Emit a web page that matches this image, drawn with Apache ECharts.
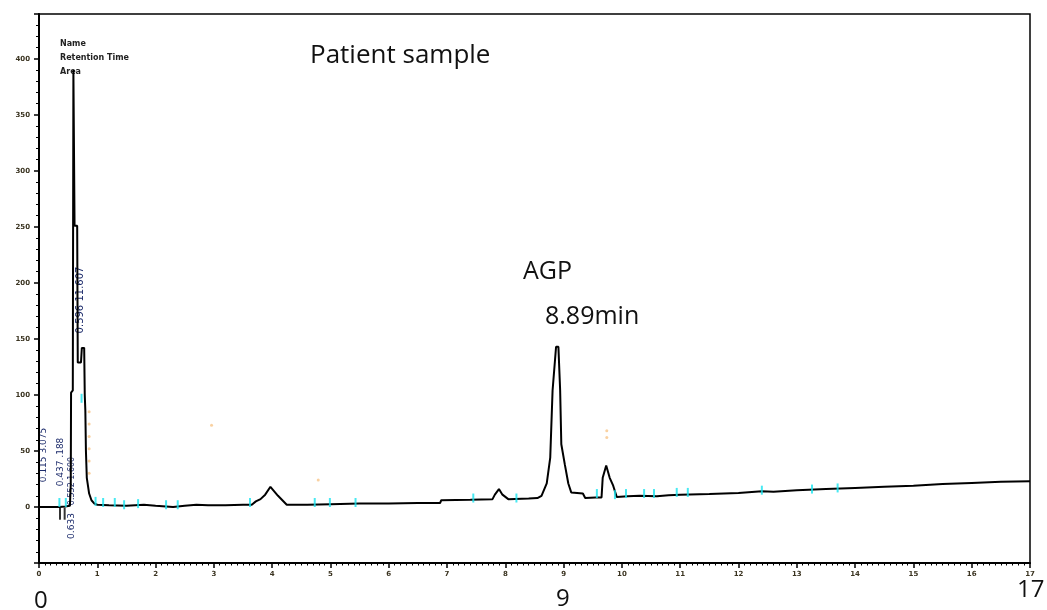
<!DOCTYPE html>
<html>
<head>
<meta charset="utf-8">
<script src="https://cdn.jsdelivr.net/npm/echarts@6/dist/echarts.min.js"></script>
<style>
html, body { margin: 0; padding: 0; background: #fff; }
#chart { width: 1047px; height: 610px; }
</style>
</head>
<body>
<div id="chart"></div>
<script>
// retention time (min) and detector signal
const retTimes = [0, 0.35, 0.45, 0.53, 0.545, 0.55, 0.58, 0.59, 0.605, 0.61, 0.655, 0.665, 0.72, 0.735, 0.775, 0.785, 0.795, 0.805, 0.82, 0.86, 0.9, 0.95,
  1.0, 1.2, 1.5, 1.8, 2.0, 2.3, 2.5, 2.7, 2.9, 3.2, 3.5, 3.65, 3.72, 3.8, 3.88, 3.97, 4.1, 4.25, 4.6,
  5.0, 5.5, 6.0, 6.5, 6.88, 6.9, 7.4, 7.78, 7.82, 7.89, 7.95, 8.05, 8.4, 8.55,
  8.62, 8.71, 8.77, 8.81, 8.87, 8.91, 8.94, 8.96, 9.02, 9.08, 9.13, 9.33, 9.37, 9.55, 9.65,
  9.67, 9.73, 9.76, 9.79, 9.85, 9.91, 10.1, 10.3, 10.6, 10.8, 11.0, 11.5, 12.0, 12.4, 12.6,
  13.0, 13.5, 14.0, 14.5, 15.0, 15.5, 16.0, 16.5, 17.0];
const signal = [0, 0, 0.5, 1, 20, 102, 104, 390, 390, 251, 251, 129, 129, 142, 142, 100, 86, 50, 26, 12, 6, 3,
  2, 1.5, 1, 2, 1, 0, 1, 2, 1.5, 1.5, 2, 2, 5, 7, 11, 18, 10, 2, 2,
  2.5, 3, 3, 3.5, 3.5, 6, 6.5, 7, 11, 16, 11, 7, 7.5, 8,
  10, 21, 44, 104, 143, 143, 104, 56, 38, 21, 13, 12, 8, 8.5, 8.5,
  26, 37, 37, 26, 19, 9, 9.5, 10, 9.5, 10.5, 11, 11.5, 12.5, 14, 13.5,
  15, 16, 17, 18, 19, 20.5, 21.5, 22.5, 23];

// integration event marks (cyan)
const cyanTimes = [0.35, 0.46, 0.73, 0.97, 1.1, 1.3, 1.46, 1.7, 2.18, 2.38, 3.62, 4.73, 4.99, 5.43, 7.45, 8.19, 9.57, 9.88, 10.07, 10.38, 10.55, 10.94, 11.13, 12.4, 13.26, 13.7];
const cyanLevels = [4, 4, 97, 5, 4, 4, 2, 3, 2, 2, 4, 4, 4, 4, 8, 8, 12, 11, 12, 12, 12, 13, 13, 15, 16, 17];

// faint orange marker dots
const dotTimes = [0.86, 0.86, 0.86, 0.86, 0.86, 0.86, 2.96, 4.79, 9.74, 9.74];
const dotLevels = [85, 74, 63, 52, 41, 30, 73, 24, 68, 62];

// black drop marks below baseline
const dropTimes = [0.36, 0.44];
const dropLevels = [-6, -6];

const chart = echarts.init(document.getElementById('chart'));

const trace = retTimes.map((t, i) => [t, signal[i]]);
const cyanMarks = cyanTimes.map((t, i) => [t, cyanLevels[i]]);
const dots = dotTimes.map((t, i) => [t, dotLevels[i]]);
const drops = dropTimes.map((t, i) => [t, dropLevels[i]]);

const bigFont = { fontFamily: 'Open Sans', fontSize: 25, fill: '#111' };
const tagFont = { fontFamily: 'DejaVu Sans', fill: '#1c2b6b' };

const option = {
  animation: false,
  backgroundColor: '#fff',
  grid: {
    left: 39, right: 17, top: 14, bottom: 47,
    show: true, borderColor: '#000', borderWidth: 1.5
  },
  xAxis: {
    type: 'value', min: 0, max: 17, interval: 1,
    axisLine: { onZero: false, lineStyle: { color: '#000', width: 2 } },
    axisTick: { length: 5, lineStyle: { color: '#000', width: 1.5 } },
    minorTick: { show: true, splitNumber: 10, length: 2.5, lineStyle: { color: '#000', width: 1 } },
    axisLabel: { color: '#3a3320', fontSize: 7, margin: 8, fontFamily: 'DejaVu Sans', fontWeight: 'bold' },
    splitLine: { show: false }
  },
  yAxis: {
    type: 'value', min: -50, max: 440, interval: 50,
    axisLine: { onZero: false, lineStyle: { color: '#000', width: 2 } },
    axisTick: { length: 5, lineStyle: { color: '#000', width: 1.5 } },
    minorTick: { show: true, splitNumber: 5, length: 3, lineStyle: { color: '#000', width: 1 } },
    axisLabel: { color: '#3a3320', fontSize: 7, margin: 9, fontFamily: 'DejaVu Sans', fontWeight: 'bold', showMinLabel: false, showMaxLabel: false },
    splitLine: { show: false }
  },
  series: [
    {
      name: 'signal',
      type: 'line',
      data: trace,
      showSymbol: false,
      lineStyle: { color: '#000', width: 2 },
      z: 3
    },
    {
      name: 'events',
      type: 'scatter',
      data: cyanMarks,
      symbol: 'rect',
      symbolSize: [2, 9],
      itemStyle: { color: '#19e3ef' },
      z: 4
    },
    {
      name: 'drops',
      type: 'scatter',
      data: drops,
      symbol: 'rect',
      symbolSize: [2, 12],
      itemStyle: { color: '#000' },
      z: 4
    },
    {
      name: 'dots',
      type: 'scatter',
      data: dots,
      symbol: 'circle',
      symbolSize: 3,
      itemStyle: { color: '#f7c68a' },
      z: 2
    }
  ],
  graphic: [
    { type: 'text', left: 310, top: 43, style: Object.assign({ text: 'Patient sample' }, bigFont, { fontSize: 26 }) },
    { type: 'text', left: 523, top: 259, style: Object.assign({ text: 'AGP' }, bigFont) },
    { type: 'text', left: 545, top: 304, style: Object.assign({ text: '8.89min' }, bigFont) },
    { type: 'text', left: 34, top: 589, style: Object.assign({ text: '0' }, bigFont, { fontSize: 24 }) },
    { type: 'text', left: 556, top: 587, style: Object.assign({ text: '9' }, bigFont, { fontSize: 24 }) },
    { type: 'text', left: 1017, top: 578, style: Object.assign({ text: '17' }, bigFont, { fontSize: 24 }) },
    { type: 'text', left: 60, top: 40, style: { text: 'Name', fontFamily: 'DejaVu Sans', fontWeight: 'bold', fontSize: 8, fill: '#222' } },
    { type: 'text', left: 60, top: 54, style: { text: 'Retention Time', fontFamily: 'DejaVu Sans', fontWeight: 'bold', fontSize: 8, fill: '#222' } },
    { type: 'text', left: 60, top: 68, style: { text: 'Area', fontFamily: 'DejaVu Sans', fontWeight: 'bold', fontSize: 8, fill: '#222' } },
    { type: 'text', x: 80, y: 300, rotation: Math.PI / 2, style: Object.assign({ text: '0.596 11.607', fontSize: 10, align: 'center', verticalAlign: 'middle' }, tagFont) },
    { type: 'text', x: 44, y: 455, rotation: Math.PI / 2, style: Object.assign({ text: '0.115 3.075', fontSize: 9, align: 'center', verticalAlign: 'middle' }, tagFont) },
    { type: 'text', x: 61, y: 462, rotation: Math.PI / 2, style: Object.assign({ text: '0.437 .188', fontSize: 9, align: 'center', verticalAlign: 'middle' }, tagFont) },
    { type: 'text', x: 72, y: 481, rotation: Math.PI / 2, style: Object.assign({ text: '0.552 1.600', fontSize: 8, align: 'center', verticalAlign: 'middle' }, tagFont) },
    { type: 'text', x: 72, y: 526, rotation: Math.PI / 2, style: Object.assign({ text: '0.633', fontSize: 9, align: 'center', verticalAlign: 'middle' }, tagFont) }
  ]
};

chart.setOption(option);
</script>
</body>
</html>
